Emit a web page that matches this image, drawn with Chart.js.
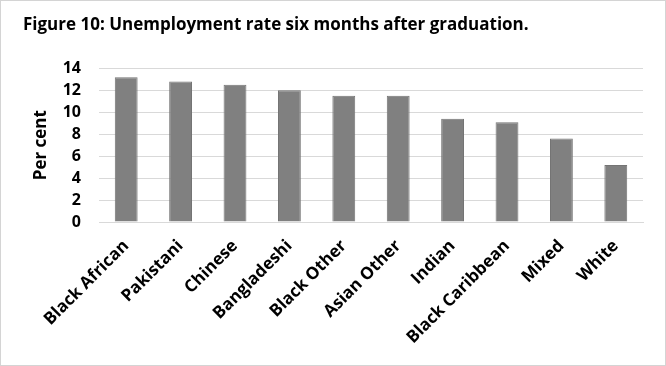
<!DOCTYPE html>
<html lang="en">
<head>
  <meta charset="UTF-8">
  <title>Figure 10</title>
  <script src="https://cdn.jsdelivr.net/npm/chart.js"></script>
  <style>
    body { margin: 0; background: #fff; }
    #wrap { position: relative; width: 666px; height: 366px; }
    #frame { position: absolute; left: 0; top: 0; width: 664px; height: 364px; border: 1px solid #d4d4d4; pointer-events: none; }
  </style>
</head>
<body>
  <div id="wrap">
    <canvas id="grafico" width="666" height="366"></canvas>
    <div id="frame"></div>
  </div>
<script>
  // data
  var groups = ['Black African', 'Pakistani', 'Chinese', 'Bangladeshi', 'Black Other',
                'Asian Other', 'Indian', 'Black Caribbean', 'Mixed', 'White'];
  var rates = [13.2, 12.8, 12.5, 12.0, 11.5, 11.5, 9.4, 9.1, 7.6, 5.2];
  var yMin = 0, yMax = 14, yStep = 2;

  var fonte = "'Open Sans', 'Liberation Sans', sans-serif";

  new Chart(document.getElementById('grafico'), {
    type: 'bar',
    data: {
      labels: groups,
      datasets: [{
        label: 'Per cent',
        data: rates,
        backgroundColor: '#808080',
        borderColor: '#747474',
        borderWidth: 1,
        categoryPercentage: 1,
        barPercentage: 0.42
      }]
    },
    options: {
      responsive: false,
      animation: false,
      layout: { padding: { left: 23, right: 23, top: 0, bottom: 0 } },
      plugins: {
        legend: { display: false },
        tooltip: { enabled: false },
        title: {
          display: true,
          text: 'Figure 10: Unemployment rate six months after graduation.',
          align: 'start',
          color: '#000',
          font: { family: fonte, size: 17, weight: 'bold', lineHeight: 1.2 },
          padding: { top: 15, bottom: 33 }
        }
      },
      scales: {
        x: {
          grid: { display: false, drawTicks: false },
          border: { display: true, color: '#d9d9d9' },
          ticks: {
            color: '#000',
            minRotation: 45,
            maxRotation: 45,
            padding: 14,
            font: { family: fonte, size: 17, weight: 'bold' }
          },
          afterFit: function (scale) { scale.height = 144; }
        },
        y: {
          min: yMin,
          max: yMax,
          ticks: {
            stepSize: yStep,
            autoSkip: false,
            color: '#000',
            padding: 18,
            font: { family: fonte, size: 16, weight: 'bold' }
          },
          grid: { color: '#d9d9d9', drawTicks: false },
          border: { display: false },
          title: {
            display: true,
            text: 'Per cent',
            color: '#000',
            font: { family: fonte, size: 17, weight: 'bold', lineHeight: 1.2 },
            padding: { top: 8, bottom: 0 }
          },
          afterFit: function (scale) { scale.width = 76; }
        }
      }
    }
  });
</script>
</body>
</html>
